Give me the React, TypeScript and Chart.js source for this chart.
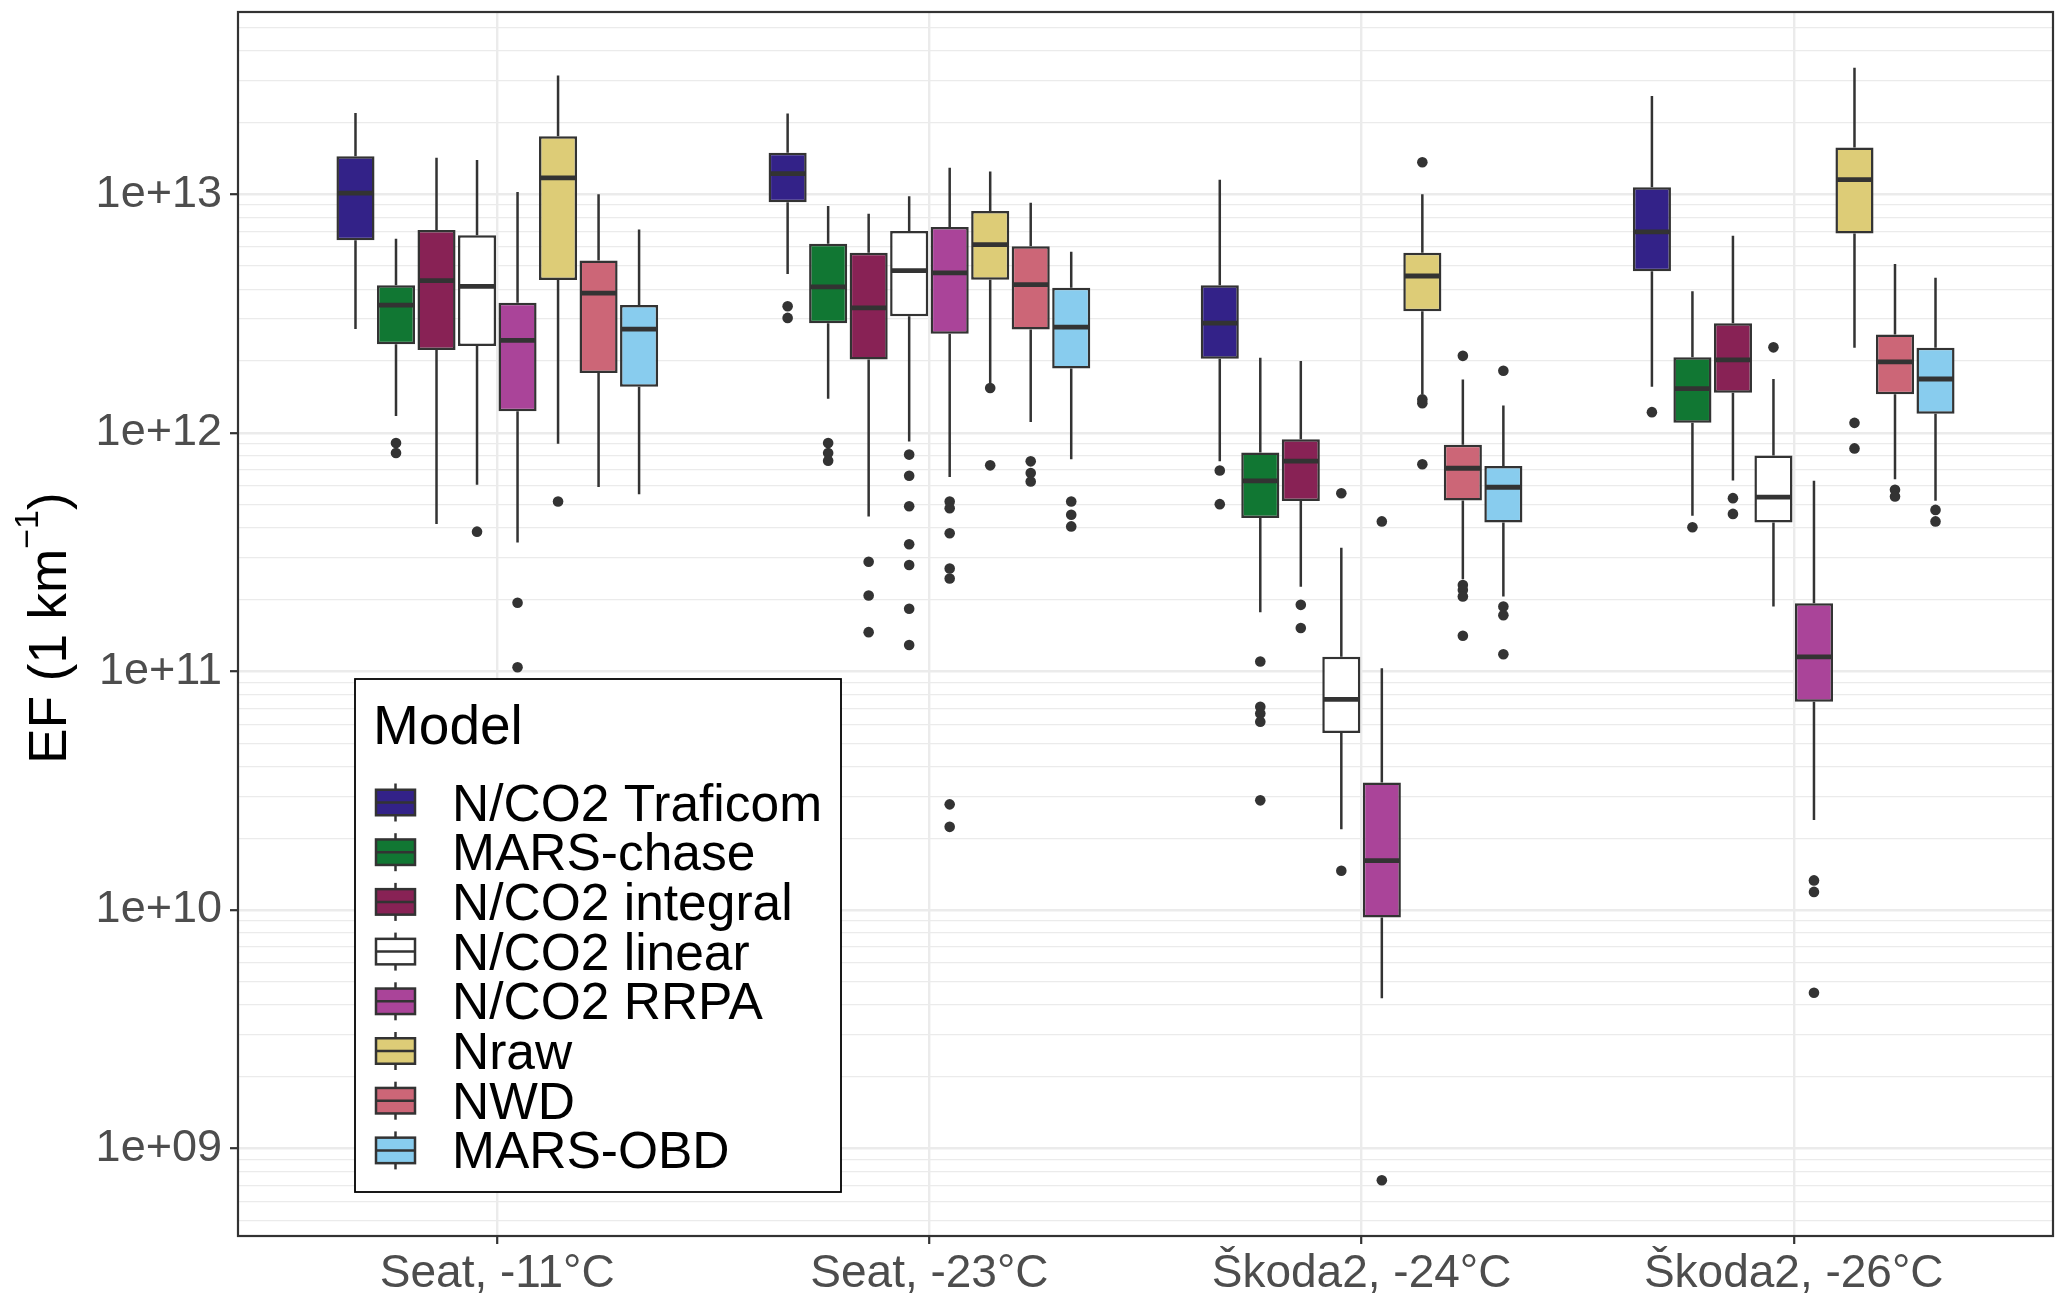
import React, { useEffect, useRef } from 'react';
import { Chart, registerables } from 'chart.js';

Chart.register(...registerables);

const FONT = "'Liberation Sans', Arial, sans-serif";

const categories = ['Seat, -11°C', 'Seat, -23°C', 'Škoda2, -24°C', 'Škoda2, -26°C'];
const models = [
  'N/CO2 Traficom',
  'MARS-chase',
  'N/CO2 integral',
  'N/CO2 linear',
  'N/CO2 RRPA',
  'Nraw',
  'NWD',
  'MARS-OBD',
];
const modelColors = ['#332288', '#117733', '#882255', '#FFFFFF', '#AA4499', '#DDCC77', '#CC6677', '#88CCEE'];

// box statistics, [model][category]
const whiskerLow = [
  [2.72e12, 4.63e12, 7.6e11, 1.56e12],
  [1.175e12, 1.39e12, 1.77e11, 4.49e11],
  [4.15e11, 4.46e11, 2.26e11, 6.31e11],
  [6.05e11, 9.18e11, 2.18e10, 1.87e11],
  [3.47e11, 6.52e11, 4.27e9, 2.38e10],
  [9.0e11, 1.61e12, 1.45e12, 2.27e12],
  [5.92e11, 1.11e12, 2.43e11, 6.38e11],
  [5.53e11, 7.75e11, 2.06e11, 5.19e11],
];
const q1 = [
  [6.41e12, 9.25e12, 2.04e12, 4.75e12],
  [2.35e12, 2.88e12, 4.39e11, 1.1e12],
  [2.22e12, 2.03e12, 5.18e11, 1.47e12],
  [2.31e12, 3.08e12, 5.52e10, 4.21e11],
  [1.23e12, 2.6e12, 9.29e9, 7.45e10],
  [4.37e12, 4.38e12, 3.23e12, 6.84e12],
  [1.78e12, 2.71e12, 5.2e11, 1.45e12],
  [1.56e12, 1.86e12, 4.21e11, 1.2e12],
];
const median = [
  [1.01e13, 1.22e13, 2.88e12, 6.95e12],
  [3.43e12, 4.09e12, 6.29e11, 1.53e12],
  [4.34e12, 3.34e12, 7.6e11, 2.02e12],
  [4.11e12, 4.78e12, 7.63e10, 5.37e11],
  [2.44e12, 4.68e12, 1.61e10, 1.15e11],
  [1.17e13, 6.15e12, 4.54e12, 1.15e13],
  [3.85e12, 4.18e12, 7.1e11, 1.98e12],
  [2.72e12, 2.77e12, 5.91e11, 1.68e12],
];
const q3 = [
  [1.44e13, 1.49e13, 4.15e12, 1.07e13],
  [4.15e12, 6.2e12, 8.26e11, 2.07e12],
  [7.08e12, 5.68e12, 9.4e11, 2.88e12],
  [6.73e12, 7.0e12, 1.15e11, 8.03e11],
  [3.51e12, 7.28e12, 3.42e10, 1.93e11],
  [1.75e13, 8.49e12, 5.68e12, 1.57e13],
  [5.27e12, 6.05e12, 8.9e11, 2.58e12],
  [3.43e12, 4.05e12, 7.26e11, 2.27e12],
];
const whiskerHigh = [
  [2.19e13, 2.18e13, 1.15e13, 2.58e13],
  [6.5e12, 8.91e12, 2.06e12, 3.92e12],
  [1.42e13, 8.27e12, 2.0e12, 6.69e12],
  [1.39e13, 9.8e12, 3.3e11, 1.68e12],
  [1.02e13, 1.29e13, 1.03e11, 6.3e11],
  [3.14e13, 1.245e13, 1.0e13, 3.39e13],
  [1.0e13, 9.2e12, 1.67e12, 5.1e12],
  [7.11e12, 5.73e12, 1.3e12, 4.46e12],
];
const outliers: number[][][] = [
  [[], [3.39e12, 3.03e12], [6.95e11, 5.02e11], [1.22e12]],
  [[9.06e11, 8.22e11], [9.06e11, 8.22e11, 7.63e11], [1.1e11, 7.1e10, 6.66e10, 6.15e10, 2.88e10], [4.02e11]],
  [[], [2.88e11, 2.08e11, 1.46e11], [1.9e11, 1.52e11], [5.32e11, 4.57e11]],
  [[3.85e11], [8.1e11, 6.6e11, 4.92e11, 3.41e11, 2.79e11, 1.83e11, 1.29e11], [5.58e11, 1.46e10], [2.28e12]],
  [[1.94e11, 1.04e11], [5.15e11, 4.83e11, 3.79e11, 2.7e11, 2.45e11, 2.77e10, 2.23e10], [4.25e11, 7.36e8], [1.33e10, 1.19e10, 4.5e9]],
  [[5.15e11], [1.54e12, 7.3e11], [1.36e13, 1.38e12, 1.33e12, 7.38e11], [1.1e12, 8.6e11]],
  [[], [7.59e11, 6.78e11, 6.25e11], [2.1e12, 2.3e11, 2.19e11, 2.06e11, 1.41e11], [5.77e11, 5.41e11]],
  [[], [5.15e11, 4.53e11, 4.05e11], [1.82e12, 1.87e11, 1.72e11, 1.18e11], [4.75e11, 4.25e11]],
];

const yMin = 4.3e8;
const yMax = 5.8e13;
const yDecades = [8, 9, 10, 11, 12, 13];
const yLabelDecades = [9, 10, 11, 12, 13];

const INK = '#333333';
const GRID = '#EBEBEB';

const isDecade = (v?: number) => {
  if (!v) return false;
  const l = Math.log10(v);
  return Math.abs(l - Math.round(l)) < 1e-9;
};

const boxPlotPlugin = {
  id: 'boxPlotParts',
  beforeDatasetsDraw(chart: any) {
    const { ctx } = chart;
    const y = chart.scales.y;
    ctx.save();
    ctx.strokeStyle = INK;
    ctx.lineWidth = 2.5;
    models.forEach((_, m) => {
      chart.getDatasetMeta(m).data.forEach((el: any, c: number) => {
        ctx.beginPath();
        ctx.moveTo(el.x, y.getPixelForValue(whiskerHigh[m][c]));
        ctx.lineTo(el.x, y.getPixelForValue(q3[m][c]));
        ctx.moveTo(el.x, y.getPixelForValue(q1[m][c]));
        ctx.lineTo(el.x, y.getPixelForValue(whiskerLow[m][c]));
        ctx.stroke();
      });
    });
    ctx.restore();
  },
  afterDatasetsDraw(chart: any) {
    const { ctx } = chart;
    const y = chart.scales.y;
    ctx.save();
    models.forEach((_, m) => {
      chart.getDatasetMeta(m).data.forEach((el: any, c: number) => {
        const half = el.width / 2;
        const my = y.getPixelForValue(median[m][c]);
        ctx.strokeStyle = INK;
        ctx.lineWidth = 4.8;
        ctx.beginPath();
        ctx.moveTo(el.x - half + 1, my);
        ctx.lineTo(el.x + half - 1, my);
        ctx.stroke();
        ctx.fillStyle = INK;
        outliers[m][c].forEach((v) => {
          ctx.beginPath();
          ctx.arc(el.x, y.getPixelForValue(v), 5.3, 0, Math.PI * 2);
          ctx.fill();
        });
      });
    });
    ctx.restore();
  },
  afterDraw(chart: any) {
    const { ctx, chartArea: a } = chart;
    ctx.save();
    // panel border
    ctx.strokeStyle = INK;
    ctx.lineWidth = 2.2;
    ctx.strokeRect(a.left, a.top, a.right - a.left, a.bottom - a.top);

    // y axis title with superscript
    const cy = (a.top + a.bottom) / 2 + 4;
    ctx.translate(66, cy);
    ctx.rotate(-Math.PI / 2);
    ctx.fillStyle = '#000000';
    ctx.textBaseline = 'alphabetic';
    ctx.textAlign = 'left';
    const mainFont = `53px ${FONT}`;
    const supFont = `34px ${FONT}`;
    ctx.font = mainFont;
    const w1 = ctx.measureText('EF (1 km').width;
    const w3 = ctx.measureText(')').width;
    ctx.font = supFont;
    const w2 = ctx.measureText('\u22121').width;
    let x0 = -(w1 + w2 + w3) / 2;
    ctx.font = mainFont;
    ctx.fillText('EF (1 km', x0, 0);
    x0 += w1;
    ctx.font = supFont;
    ctx.fillText('\u22121', x0, -28);
    x0 += w2;
    ctx.font = mainFont;
    ctx.fillText(')', x0, 0);
    ctx.restore();

    // legend inside the panel
    ctx.save();
    const left = a.left + 117;
    const right = a.left + 603;
    const bottom = a.bottom - 44;
    const top = bottom - 513;
    ctx.fillStyle = '#FFFFFF';
    ctx.fillRect(left, top, right - left, bottom - top);
    ctx.strokeStyle = '#000000';
    ctx.lineWidth = 1.8;
    ctx.strokeRect(left, top, right - left, bottom - top);
    ctx.fillStyle = '#000000';
    ctx.textAlign = 'left';
    ctx.textBaseline = 'alphabetic';
    ctx.font = `55px ${FONT}`;
    ctx.fillText('Model', left + 18, top + 65);
    ctx.font = `51.5px ${FONT}`;
    models.forEach((name, i) => {
      const ky = top + 123.5 + i * 49.7;
      const kx = left + 21;
      const kw = 39;
      const kh = 25.5;
      ctx.strokeStyle = INK;
      ctx.lineWidth = 2.5;
      ctx.beginPath();
      ctx.moveTo(kx + kw / 2, ky - 19);
      ctx.lineTo(kx + kw / 2, ky + 19);
      ctx.stroke();
      ctx.fillStyle = modelColors[i];
      ctx.fillRect(kx, ky - kh / 2, kw, kh);
      ctx.strokeRect(kx, ky - kh / 2, kw, kh);
      ctx.beginPath();
      ctx.moveTo(kx, ky);
      ctx.lineTo(kx + kw, ky);
      ctx.stroke();
      ctx.fillStyle = '#000000';
      ctx.fillText(name, left + 97, ky + 18);
    });
    ctx.restore();
  },
};

const BoxChart: React.FC = () => {
  const canvasRef = useRef<HTMLCanvasElement>(null);
  const chartRef = useRef<Chart | null>(null);

  useEffect(() => {
    document.body.style.margin = '0';
    if (!canvasRef.current) return;
    if (chartRef.current) chartRef.current.destroy();
    const ctx = canvasRef.current.getContext('2d');
    if (!ctx) return;

    chartRef.current = new Chart(ctx, {
      type: 'bar',
      data: {
        datasets: models.map((name, m) => ({
          label: name,
          data: categories.map((_, c) => ({ x: c + 1, y: [q1[m][c], q3[m][c]] })),
          backgroundColor: modelColors[m],
          borderColor: INK,
          borderWidth: 2.5,
          borderSkipped: false,
          categoryPercentage: 0.75,
          barPercentage: 0.94,
        })),
      } as any,
      options: {
        animation: false,
        responsive: true,
        maintainAspectRatio: false,
        events: [],
        layout: { padding: { top: 12, right: 14, left: 0, bottom: 0 } },
        plugins: {
          legend: { display: false },
          tooltip: { enabled: false },
        },
        scales: {
          x: {
            type: 'linear',
            min: 0.4,
            max: 4.6,
            offset: false,
            border: { display: false },
            afterBuildTicks: (scale: any) => {
              scale.ticks = categories.map((_, i) => ({ value: i + 1 }));
            },
            afterFit: (scale: any) => {
              scale.height = 68;
              scale.paddingLeft = 0;
              scale.paddingRight = 0;
            },
            grid: {
              offset: false,
              color: GRID,
              lineWidth: 2.4,
              drawTicks: true,
              tickLength: 8,
              tickColor: INK,
              tickWidth: 2.2,
            },
            ticks: {
              autoSkip: false,
              maxRotation: 0,
              padding: 3,
              color: '#4D4D4D',
              font: { family: FONT, size: 46 },
              callback: (value: any) => categories[Math.round(Number(value)) - 1] ?? '',
            },
          },
          y: {
            type: 'logarithmic',
            min: yMin,
            max: yMax,
            border: { display: false },
            afterBuildTicks: (scale: any) => {
              const ticks: { value: number }[] = [];
              yDecades.forEach((d) => {
                for (let k = 1; k <= 9; k++) {
                  const v = k * Math.pow(10, d);
                  if (v >= yMin && v <= yMax) ticks.push({ value: v });
                }
              });
              scale.ticks = ticks;
            },
            afterFit: (scale: any) => {
              scale.width = 238;
              scale.paddingTop = 0;
              scale.paddingBottom = 0;
            },
            grid: {
              color: GRID,
              lineWidth: (c: any) => (isDecade(c.tick?.value) ? 2.4 : 1.2),
              drawTicks: true,
              tickLength: 8,
              tickWidth: 2.2,
              tickColor: (c: any) => (isDecade(c.tick?.value) ? INK : 'rgba(0,0,0,0)'),
            },
            ticks: {
              autoSkip: false,
              padding: 8,
              color: '#4D4D4D',
              font: { family: FONT, size: 45 },
              callback: (value: any) => {
                const v = Number(value);
                if (!isDecade(v)) return '';
                const e = Math.round(Math.log10(v));
                if (!yLabelDecades.includes(e)) return '';
                return `1e+${String(e).padStart(2, '0')}`;
              },
            },
          },
        },
      } as any,
      plugins: [boxPlotPlugin],
    });

    return () => {
      if (chartRef.current) {
        chartRef.current.destroy();
        chartRef.current = null;
      }
    };
  }, []);

  return (
    <div style={{ position: 'relative', width: '2067px', height: '1304px', background: '#FFFFFF' }}>
      <canvas ref={canvasRef}></canvas>
    </div>
  );
};

export default function App() {
  return <BoxChart />;
}
